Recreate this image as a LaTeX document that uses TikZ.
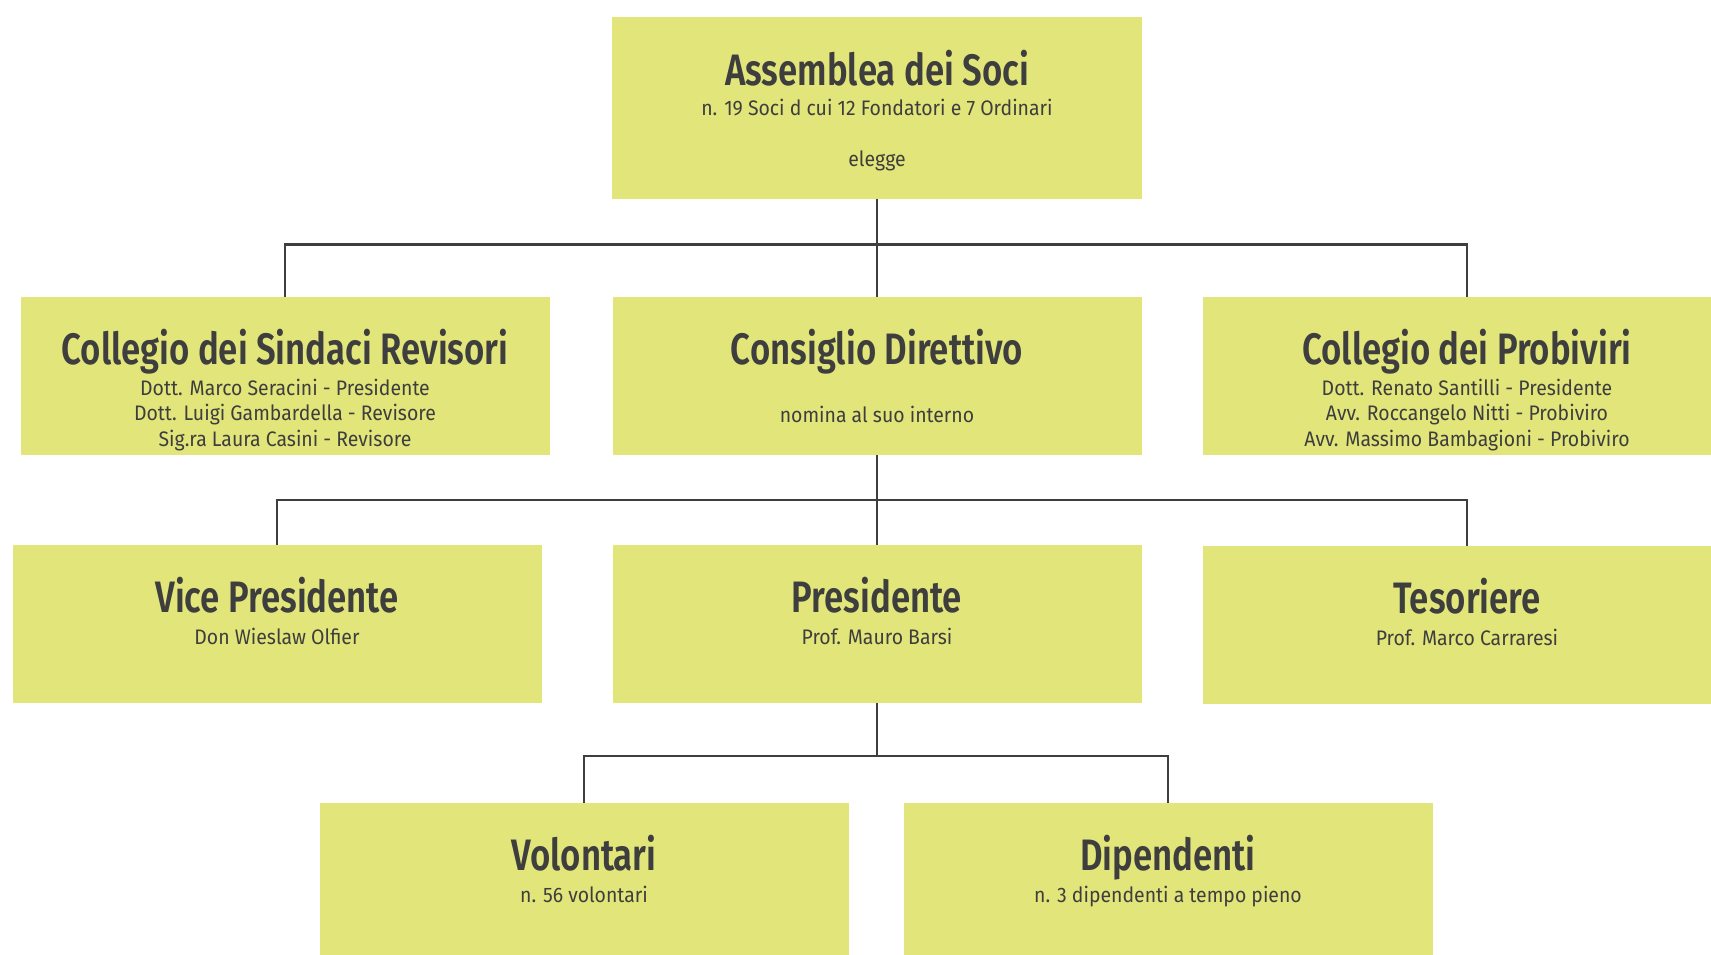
\documentclass[tikz,border=0pt]{standalone}
\usepackage{fontspec}
\setmainfont{Fira Sans}[FakeStretch=0.925]
\newfontfamily\titlefont{Fira Sans SemiBold}[FakeStretch=0.79]
\usetikzlibrary{positioning}

\definecolor{boxfill}{RGB}{226,230,122}
\definecolor{ink}{RGB}{62,62,62}

\begin{document}
\begin{tikzpicture}[x=1pt, y=-1pt,
        box/.style={rectangle, fill=boxfill, minimum width=529pt, minimum height=158pt, inner sep=0pt},
        head/.style={anchor=base, inner sep=0pt, text=ink, font=\titlefont\fontsize{44}{50}\selectfont},
        sub/.style={anchor=north, inner sep=0pt, text=ink, align=center,
            font=\fontsize{21}{25.6}\selectfont, execute at begin node=\strut},
        link/.style={draw=ink, line width=2.2pt}]
        \useasboundingbox (0,0) rectangle (1711,954);

        % boxes
        \node [box, minimum width=530pt, minimum height=182pt] (assemblea) at (877,107.5) {};
        \node [box] (sindaci) at (285,376) {};
        \node [box] (consiglio) at (877,376) {};
        \node [box] (probiviri) at (1467,376) {};
        \node [box] (vice) at (277,624) {};
        \node [box] (presidente) at (877,624) {};
        \node [box] (tesoriere) at (1467,625) {};
        \node [box] (volontari) at (584,882) {};
        \node [box] (dipendenti) at (1168,882) {};

        % titles
        \node [head] (assemblea-title) at ([yshift=-69pt]assemblea.north) {Assemblea dei Soci};
        \node [head] (sindaci-title) at ([yshift=-68pt]sindaci.north) {Collegio dei Sindaci Revisori};
        \node [head] (consiglio-title) at ([yshift=-68pt]consiglio.north) {Consiglio Direttivo};
        \node [head] (probiviri-title) at ([yshift=-68pt]probiviri.north) {Collegio dei Probiviri};
        \node [head] (vice-title) at ([yshift=-68pt]vice.north) {Vice Presidente};
        \node [head] (presidente-title) at ([yshift=-68pt]presidente.north) {Presidente};
        \node [head] (tesoriere-title) at ([yshift=-68pt]tesoriere.north) {Tesoriere};
        \node [head] (volontari-title) at ([yshift=-68pt]volontari.north) {Volontari};
        \node [head] (dipendenti-title) at ([yshift=-68pt]dipendenti.north) {Dipendenti};

        % texts
        \node [sub] (assemblea-text) at ([yshift=-13.7pt]assemblea-title.base)
            {n. 19 Soci d cui 12 Fondatori e 7 Ordinari\\[25.6pt]elegge};
        \node [sub] (sindaci-text) at ([yshift=-13.7pt]sindaci-title.base)
            {Dott. Marco Seracini - Presidente\\Dott. Luigi Gambardella - Revisore\\Sig.ra Laura Casini - Revisore};
        \node [sub] (consiglio-text) at ([yshift=-39.3pt]consiglio-title.base)
            {nomina al suo interno};
        \node [sub] (probiviri-text) at ([yshift=-13.7pt]probiviri-title.base)
            {Dott. Renato Santilli - Presidente\\Avv. Roccangelo Nitti - Probiviro\\Avv. Massimo Bambagioni - Probiviro};
        \node [sub] (vice-text) at ([yshift=-13.7pt]vice-title.base) {Don Wieslaw Olfier};
        \node [sub] (presidente-text) at ([yshift=-13.7pt]presidente-title.base) {Prof. Mauro Barsi};
        \node [sub] (tesoriere-text) at ([yshift=-13.7pt]tesoriere-title.base) {Prof. Marco Carraresi};
        \node [sub] (volontari-text) at ([yshift=-13.7pt]volontari-title.base) {n. 56 volontari};
        \node [sub] (dipendenti-text) at ([yshift=-13.7pt]dipendenti-title.base) {n. 3 dipendenti a tempo pieno};

        % connectors
        \coordinate (j1) at (assemblea.south |- 0,244.4);
        \coordinate (j2) at (consiglio.south |- 0,499.8);
        \coordinate (j3) at (presidente.south |- 0,756);
        \draw [link] (assemblea.south) -- (j1);
        \draw [link] (j1) -| (sindaci.north);
        \draw [link] (j1) -- (consiglio.north);
        \draw [link] (j1) -| (probiviri.north);
        \draw [link] (consiglio.south) -- (j2);
        \draw [link] (j2) -| (vice.north);
        \draw [link] (j2) -- (presidente.north);
        \draw [link] (j2) -| (tesoriere.north);
        \draw [link] (presidente.south) -- (j3);
        \draw [link] (j3) -| (volontari.north);
        \draw [link] (j3) -| (dipendenti.north);
\end{tikzpicture}
\end{document}
